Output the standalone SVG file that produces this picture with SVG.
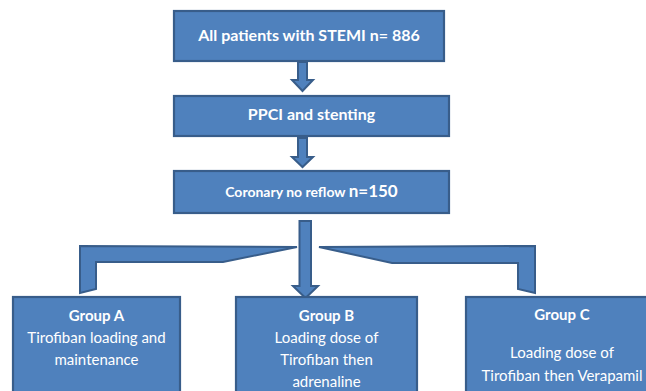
<svg xmlns="http://www.w3.org/2000/svg" width="646" height="391" viewBox="0 0 646 391">
<style>
.box{fill:#4F81BD;stroke:#385D8A;stroke-width:2.2}
.arr{fill:#4F81BD;stroke:#385D8A;stroke-width:2;stroke-linejoin:miter}
text{fill:#FFFFFF;font-family:Lato,"Open Sans","Liberation Sans",sans-serif;text-anchor:middle}
.b{font-weight:bold;font-size:15px}
.t{font-weight:bold;font-size:16px}
.r{font-size:15px}
</style>
<rect width="646" height="391" fill="#FFFFFF"/>
<g id="connectors">
<polygon class="arr" points="298,62 307,62 307,80 313,80 302.5,91 292,80 298,80"/>
<polygon class="arr" points="298,138 307,138 307,157 313,157 302.5,167 292,157 298,157"/>
<polygon class="arr" points="299.5,221 311,221 311,286 318,286 305.5,298 293,286 299.5,286"/>
<polygon class="arr" points="80,246 297,247 223,262 96,262 96,289 80,293"/>
<polygon class="arr" points="319,247 535,246 535,293 518,289 518,263 392,263"/>
</g>
<g id="n1">
<rect class="box" x="174" y="11" width="270" height="50"/>
<text class="t" x="309" y="41">All patients with STEMI n= 886</text>
</g>
<g id="n2">
<rect class="box" x="174" y="96" width="275" height="40"/>
<text class="t" x="311.5" y="120">PPCI and stenting</text>
</g>
<g id="n3">
<rect class="box" x="174" y="171" width="275" height="42"/>
<text class="b" x="311.5" y="197"><tspan style="font-size:14px">Coronary no reflow </tspan><tspan style="font-size:17px">n=150</tspan></text>
</g>
<g id="gA">
<rect class="box" x="13" y="297" width="167" height="110"/>
<text class="b" x="96.5" y="321">Group A</text>
<text class="r" x="96.5" y="343">Tirofiban loading and</text>
<text class="r" x="96.5" y="365">maintenance</text>
</g>
<g id="gB">
<rect class="box" x="236" y="297" width="181" height="110"/>
<text class="b" x="326.5" y="321">Group B</text>
<text class="r" x="326.5" y="343">Loading dose of</text>
<text class="r" x="326.5" y="365">Tirofiban then</text>
<text class="r" x="326.5" y="387">adrenaline</text>
</g>
<g id="gC">
<rect class="box" x="466" y="297" width="194" height="110"/>
<text class="b" x="562" y="320">Group C</text>
<text class="r" x="562" y="358">Loading dose of</text>
<text class="r" x="562" y="381">Tirofiban then Verapamil</text>
</g>
</svg>
